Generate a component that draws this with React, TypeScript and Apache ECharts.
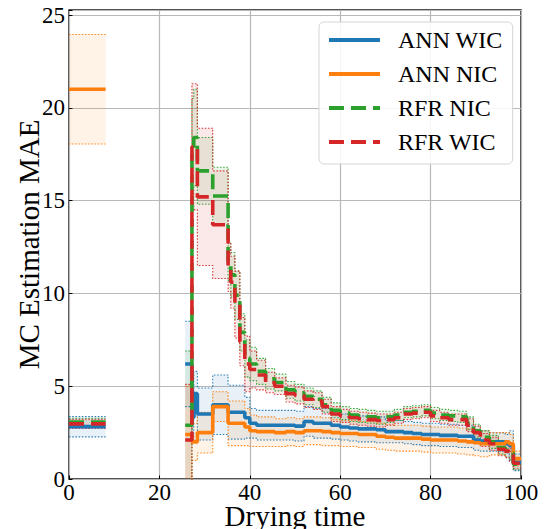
import React, { useEffect, useRef } from "react";
import * as echarts from "echarts";

const SERIES_NAMES = ["ANN WIC", "ANN NIC", "RFR NIC", "RFR WIC"];
const COLORS = ["#1f77b4", "#ff7f0e", "#2ca02c", "#d62728"];
const BAND_FILLS = ["rgba(31,119,180,0.1)", "rgba(255,127,14,0.1)", "rgba(44,160,44,0.1)", "rgba(214,39,40,0.1)"];

const X_TICKS = [0, 20, 40, 60, 80, 100];
const Y_TICKS = [0, 5, 10, 15, 20, 25];

// early (first) segment
const EARLY_TIME = [0, 8.1];
const ANN_WIC_EARLY_MEAN = [2.82, 2.82];
const ANN_WIC_EARLY_STD = [0.55, 0.55];
const ANN_NIC_EARLY_MEAN = [21.0, 21.0];
const ANN_NIC_EARLY_STD = [2.95, 2.95];
const RFR_NIC_EARLY_MEAN = [3.07, 3.07];
const RFR_NIC_EARLY_STD = [0.2, 0.2];
const RFR_WIC_EARLY_MEAN = [2.97, 2.97];
const RFR_WIC_EARLY_STD = [0.25, 0.25];

// main segment
const TIME = [25.7, 27.2, 27.6, 28.4, 29.3, 30.5, 31.8, 33.4, 35.2, 35.8, 36.7, 37.8, 38.9, 40, 41.5, 43.5, 45.5, 48, 50, 52, 54, 56, 58, 60, 62, 64, 66, 68, 70, 72, 74, 76, 78, 80, 82, 84, 86, 88, 89.5, 91, 93, 95, 96.5, 97.4, 98.3, 100];

const ANN_WIC_MEAN = [6.2, 3.3, 4.6, 3.5, 3.5, 3.5, 4.0, 4.0, 3.6, 3.6, 3.6, 3.6, 3.3, 3.0, 2.9, 2.9, 2.9, 2.9, 2.85, 3.1, 3.0, 3.0, 2.9, 2.8, 2.75, 2.7, 2.7, 2.65, 2.55, 2.55, 2.5, 2.45, 2.4, 2.4, 2.35, 2.35, 2.3, 2.3, 2.1, 2.05, 2.0, 2.0, 1.9, 1.8, 0.9, 0.9];
const ANN_WIC_STD = [2.3, 1.2, 1.2, 1.4, 1.4, 1.4, 1.6, 1.6, 1.45, 1.45, 1.45, 1.45, 1.1, 0.8, 0.8, 0.8, 0.8, 0.8, 0.8, 0.8, 0.8, 0.8, 0.75, 0.7, 0.7, 0.7, 0.7, 0.7, 0.6, 0.6, 0.6, 0.6, 0.6, 0.6, 0.6, 0.6, 0.6, 0.6, 0.55, 0.55, 0.5, 0.5, 0.5, 0.8, 0.45, 0.45];

const ANN_NIC_MEAN = [2.4, 2.0, 2.0, 2.5, 2.5, 2.5, 3.9, 3.9, 3.0, 3.0, 3.0, 3.0, 2.8, 2.6, 2.55, 2.55, 2.5, 2.55, 2.5, 2.6, 2.6, 2.55, 2.5, 2.45, 2.45, 2.4, 2.4, 2.3, 2.25, 2.2, 2.2, 2.2, 2.15, 2.1, 2.1, 2.1, 2.05, 2.0, 1.95, 1.9, 1.9, 1.9, 2.0, 1.9, 1.1, 1.1];
const ANN_NIC_STD = [2.6, 1.0, 1.0, 1.1, 1.1, 1.1, 0.8, 0.8, 1.2, 1.2, 1.2, 1.2, 1.0, 0.85, 0.8, 0.8, 0.75, 0.75, 0.75, 0.75, 0.75, 0.75, 0.7, 0.7, 0.7, 0.7, 0.7, 0.7, 0.7, 0.7, 0.7, 0.7, 0.7, 0.7, 0.7, 0.7, 0.7, 0.7, 0.7, 0.7, 0.6, 0.6, 0.5, 0.5, 0.4, 0.4];

const RFR_NIC_MEAN = [2.9, 17.5, 18.4, 16.6, 16.6, 16.6, 15.25, 15.25, 11.7, 11.0, 9.9, 7.9, 6.5, 6.2, 5.8, 5.4, 5.2, 4.8, 4.65, 4.45, 4.3, 4.0, 3.7, 3.55, 3.45, 3.4, 3.35, 3.3, 3.35, 3.45, 3.6, 3.65, 3.7, 3.55, 3.45, 3.4, 3.35, 3.0, 2.6, 2.25, 2.0, 1.7, 1.55, 1.4, 0.8, 0.8];
const RFR_NIC_STD = [4.0, 3.0, 2.6, 1.8, 1.8, 1.8, 1.55, 1.55, 1.0, 1.2, 1.3, 1.0, 1.0, 0.9, 0.7, 0.55, 0.45, 0.45, 0.45, 0.45, 0.45, 0.4, 0.4, 0.35, 0.35, 0.35, 0.35, 0.35, 0.3, 0.3, 0.3, 0.3, 0.3, 0.3, 0.3, 0.3, 0.3, 0.35, 0.35, 0.35, 0.35, 0.35, 0.35, 0.35, 0.3, 0.3];

const RFR_WIC_MEAN = [2.1, 17.9, 17.9, 15.2, 15.2, 15.2, 13.7, 13.7, 11.4, 10.6, 9.4, 7.4, 6.2, 5.9, 5.6, 5.2, 5.0, 4.6, 4.5, 4.3, 4.2, 3.9, 3.5, 3.4, 3.3, 3.25, 3.2, 3.15, 3.2, 3.3, 3.5, 3.55, 3.6, 3.4, 3.3, 3.2, 3.2, 2.9, 2.5, 2.1, 1.9, 1.6, 1.5, 1.3, 0.85, 0.85];
const RFR_WIC_STD = [3.0, 3.4, 3.4, 3.7, 3.7, 3.7, 2.9, 2.9, 1.3, 1.4, 1.8, 1.3, 1.5, 1.0, 0.8, 0.55, 0.45, 0.45, 0.45, 0.45, 0.45, 0.4, 0.4, 0.35, 0.35, 0.35, 0.35, 0.35, 0.3, 0.3, 0.3, 0.3, 0.3, 0.3, 0.3, 0.3, 0.3, 0.35, 0.35, 0.35, 0.35, 0.35, 0.35, 0.35, 0.3, 0.3];

type Seg = { t: number[]; m: number[]; s: number[] };

const SERIES_TABLE = [
  { name: SERIES_NAMES[0], dashed: false, segs: [{ t: EARLY_TIME, m: ANN_WIC_EARLY_MEAN, s: ANN_WIC_EARLY_STD }, { t: TIME, m: ANN_WIC_MEAN, s: ANN_WIC_STD }] },
  { name: SERIES_NAMES[1], dashed: false, segs: [{ t: EARLY_TIME, m: ANN_NIC_EARLY_MEAN, s: ANN_NIC_EARLY_STD }, { t: TIME, m: ANN_NIC_MEAN, s: ANN_NIC_STD }] },
  { name: SERIES_NAMES[2], dashed: true, segs: [{ t: EARLY_TIME, m: RFR_NIC_EARLY_MEAN, s: RFR_NIC_EARLY_STD }, { t: TIME, m: RFR_NIC_MEAN, s: RFR_NIC_STD }] },
  { name: SERIES_NAMES[3], dashed: true, segs: [{ t: EARLY_TIME, m: RFR_WIC_EARLY_MEAN, s: RFR_WIC_EARLY_STD }, { t: TIME, m: RFR_WIC_MEAN, s: RFR_WIC_STD }] },
];

const FONT = "'Liberation Serif', 'Times New Roman', serif";

function joinSegs(segs: Seg[], pick: (seg: Seg, i: number) => number) {
  const out: any[] = [];
  segs.forEach((seg, k) => {
    if (k > 0) out.push([segs[k - 1].t[segs[k - 1].t.length - 1], null]);
    seg.t.forEach((t, i) => out.push([t, pick(seg, i)]));
  });
  return out;
}

function buildOption() {
  const series: any[] = [];
  SERIES_TABLE.forEach((sd, idx) => {
    const segs = sd.segs as Seg[];
    series.push({
      type: "custom",
      name: sd.name + " band",
      silent: true,
      clip: true,
      z: 1,
      data: segs.map((seg, k) => [seg.t[0], seg.t[seg.t.length - 1], 0, 0, k]),
      encode: { x: [0, 1], y: [2, 3] },
      renderItem: (params: any, api: any) => {
        const seg = segs[api.value(4)];
        const pts: number[][] = [];
        const n = seg.t.length;
        for (let i = 0; i < n - 1; i++) {
          const hi = seg.m[i] + seg.s[i];
          pts.push(api.coord([seg.t[i], hi]));
          pts.push(api.coord([seg.t[i + 1], hi]));
        }
        for (let i = n - 2; i >= 0; i--) {
          const lo = Math.max(seg.m[i] - seg.s[i], 0);
          pts.push(api.coord([seg.t[i + 1], lo]));
          pts.push(api.coord([seg.t[i], lo]));
        }
        return { type: "polygon", shape: { points: pts }, style: { fill: BAND_FILLS[idx], stroke: null } };
      },
    });
  });
  SERIES_TABLE.forEach((sd, idx) => {
    const segs = sd.segs as Seg[];
    [1, -1].forEach((sign) => {
      series.push({
        type: "line",
        name: sd.name + (sign > 0 ? " upper" : " lower"),
        step: "end",
        symbol: "none",
        showSymbol: false,
        silent: true,
        z: 2,
        data: joinSegs(segs, (seg, i) => seg.m[i] + sign * seg.s[i]),
        lineStyle: { color: COLORS[idx], width: 1.1, type: [1.6, 1.6], opacity: 0.9 },
        itemStyle: { color: COLORS[idx] },
      });
    });
  });
  SERIES_TABLE.forEach((sd, idx) => {
    const segs = sd.segs as Seg[];
    series.push({
      type: "line",
      name: sd.name,
      step: "end",
      symbol: "none",
      showSymbol: false,
      z: 3,
      data: joinSegs(segs, (seg, i) => seg.m[i]),
      lineStyle: { color: COLORS[idx], width: 3.6, type: sd.dashed ? [15, 7] : "solid" },
      itemStyle: { color: COLORS[idx] },
    });
  });

  return {
    animation: false,
    backgroundColor: "#ffffff",
    textStyle: { fontFamily: FONT, color: "#000" },
    grid: {
      left: 69, right: 23, top: 10, bottom: 50,
      containLabel: false, outerBoundsMode: "none",
      show: true, borderColor: "#1a1a1a", borderWidth: 1.5, backgroundColor: "transparent",
    },
    legend: {
      data: SERIES_NAMES,
      orient: "vertical",
      left: 319,
      top: 22,
      itemWidth: 51,
      itemHeight: 14,
      itemGap: 10,
      padding: [6, 10, 10, 8],
      backgroundColor: "rgba(255,255,255,0.85)",
      borderColor: "#d6d6d6",
      borderWidth: 1,
      borderRadius: 5,
      lineStyle: { width: 4 },
      itemStyle: { opacity: 0 },
      textStyle: { fontFamily: FONT, fontSize: 24, color: "#000", lineHeight: 24, padding: [0, 0, 0, 13] },
    },
    xAxis: {
      type: "value",
      min: X_TICKS[0],
      max: X_TICKS[X_TICKS.length - 1],
      interval: X_TICKS[1] - X_TICKS[0],
      name: "Drying time",
      nameLocation: "middle",
      nameGap: 24,
      nameMoveOverlap: false,
      nameTextStyle: { fontFamily: FONT, fontSize: 29, lineHeight: 26, color: "#000" },
      axisLine: { show: false },
      axisTick: { show: true, inside: true, length: 3.5, lineStyle: { color: "#000", width: 1 } },
      axisLabel: { fontFamily: FONT, fontSize: 23, lineHeight: 20, color: "#000", margin: 3 },
      splitLine: { show: true, lineStyle: { color: "#b8b8b8", width: 1.2 } },
    },
    yAxis: {
      type: "value",
      min: Y_TICKS[0],
      max: 25.27,
      interval: Y_TICKS[1] - Y_TICKS[0],
      name: "MC Estimation MAE",
      nameLocation: "middle",
      nameGap: 26,
      nameMoveOverlap: false,
      nameTextStyle: { fontFamily: FONT, fontSize: 29, color: "#000" },
      axisLine: { show: false },
      axisTick: { show: true, inside: true, length: 3.5, lineStyle: { color: "#000", width: 1 } },
      axisLabel: {
        fontFamily: FONT,
        fontSize: 23,
        color: "#000",
        margin: 4,
        formatter: (v: number) => (Y_TICKS.some((t) => Math.abs(t - v) < 1e-9) ? String(v) : ""),
      },
      splitLine: { show: true, lineStyle: { color: "#b8b8b8", width: 1.2 } },
    },
    series,
  };
}

export default function App() {
  const ref = useRef<HTMLDivElement>(null);
  useEffect(() => {
    if (!ref.current) return;
    const chart = echarts.init(ref.current, undefined, { renderer: "svg" });
    chart.setOption(buildOption() as any);
    return () => chart.dispose();
  }, []);
  return <div ref={ref} style={{ position: "fixed", left: 0, top: 0, width: 544, height: 529, background: "#fff" }} />;
}
